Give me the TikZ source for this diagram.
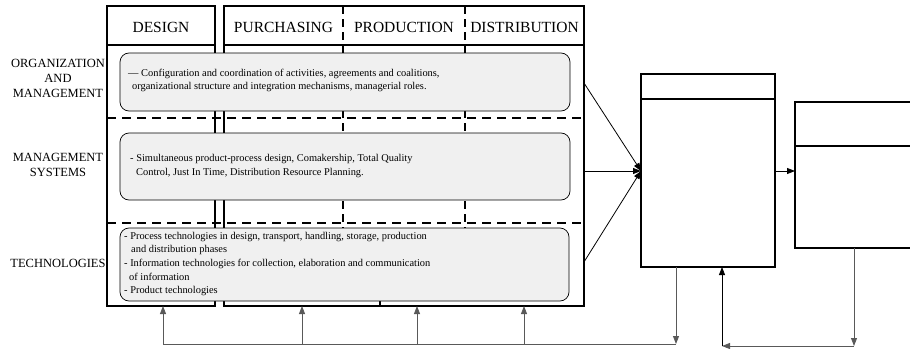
\documentclass[tikz,border=0pt]{standalone}
\usepackage{fontspec}
\setmainfont{Liberation Serif}
\usetikzlibrary{arrows.meta,calc}
\begin{document}
\begin{tikzpicture}[x=1pt,y=-1pt,
 frame/.style={draw, line width=1.6pt, inner sep=0pt, outer sep=0pt},
 sep/.style={line width=1.6pt},
 cell/.style={draw, rounded corners=9pt, fill=black!6, line width=0.7pt, inner sep=0pt, outer sep=0pt},
 hdr/.style={font=\fontsize{15.5}{18}\selectfont},
 rowlab/.style={font=\fontsize{12.5}{15}\selectfont, align=center},
 body/.style={font=\fontsize{10.4}{13.6}\selectfont, align=left, anchor=west, inner sep=0pt},
 vdash/.style={line width=1.8pt, dash pattern=on 8pt off 5pt},
 hdash/.style={line width=1.1pt, dash pattern=on 9pt off 6pt},
 arr/.style={-{Triangle[length=8pt,width=6pt]}, line width=0.8pt},
 gline/.style={line width=0.9pt, draw=black!65},
]
\useasboundingbox (0,0) rectangle (910,348);

% dashed separators (behind the cells)
\draw[vdash] (343,6) -- (343,306);
\draw[vdash] (465,6) -- (465,306);
\draw[hdash] (107,118) -- (584,118);
\draw[hdash] (107,223) -- (584,223);
\draw[line width=1.6pt] (380,299) -- (380,306);

% main frames
\node[frame, minimum width=108pt, minimum height=300pt] (des) at (161,156) {};
\node[frame, minimum width=360pt, minimum height=300pt] (main) at (404,156) {};
\draw[sep] (107,45) -- (215,45);
\draw[sep] (224,45) -- (584,45);

% header labels
\node[hdr] (hdes) at (161,27) {DESIGN};
\node[hdr] (hpur) at (283.5,27) {PURCHASING};
\node[hdr] (hpro) at (404,27) {PRODUCTION};
\node[hdr] (hdis) at (524.5,27) {DISTRIBUTION};

% row labels
\node[rowlab] (r1) at (58,78) {ORGANIZATION\\AND\\MANAGEMENT};
\node[rowlab] (r2) at (58,165) {MANAGEMENT\\SYSTEMS};
\node[rowlab] (r3) at (58,263) {TECHNOLOGIES};

% cells
\node[cell, minimum width=450pt, minimum height=58pt] (c1) at (345,82) {};
\node[cell, minimum width=450pt, minimum height=67pt] (c2) at (345,166.5) {};
\node[cell, minimum width=449pt, minimum height=73pt] (c3) at (344.5,264.5) {};

\node[body] (t1) at (128,80.5) {--- Configuration and coordination of activities, agreements and coalitions,\\
\hspace*{4pt}organizational structure and integration mechanisms, managerial roles.};
\node[body] (t2) at (130,166) {- Simultaneous product-process design, Comakership, Total Quality\\
\hspace*{6pt}Control, Just In Time, Distribution Resource Planning.};
\node[body] (t3) at (124,264) {- Process technologies in design, transport, handling, storage, production\\
\hspace*{7pt}and distribution phases\\
- Information technologies for collection, elaboration and communication\\
\hspace*{5pt}of information\\
- Product technologies};

% right boxes
\node[frame, minimum width=134pt, minimum height=193pt] (A) at (708,170.5) {};
\draw[sep] (641,99) -- (775,99);
\node[frame, minimum width=120pt, minimum height=146pt] (B) at (855,175) {};
\draw[sep] (795,146) -- (915,146);

% converging arrows
\coordinate (m1) at (584,83);
\coordinate (m2) at (584,171);
\coordinate (m3) at (584,262);
\coordinate (ain) at (641,171);
\draw[arr] (m1) -- (ain);
\draw[arr] (m2) -- (ain);
\draw[arr] (m3) -- (ain);
\draw[arr] (A.east |- ain) -- (B.west |- ain);

% feedback lines at the bottom
\coordinate (d1) at (676,344);
\coordinate (d0) at (163,344);
\draw[arr,gline] (A.south -| d1) -- (d1);
\draw[gline] (d1) -- (d0);
\foreach \x in {163,302,417,524} {
  \draw[arr,gline] (\x,344) -- (\x,306);
}
\coordinate (e1) at (854,346);
\coordinate (e0) at (722,346);
\draw[arr,gline] (B.south -| e1) -- (e1);
\draw[arr,gline] (e1) -- (e0);
\draw[arr] (e0) -- (A.south -| e0);
\end{tikzpicture}
\end{document}
